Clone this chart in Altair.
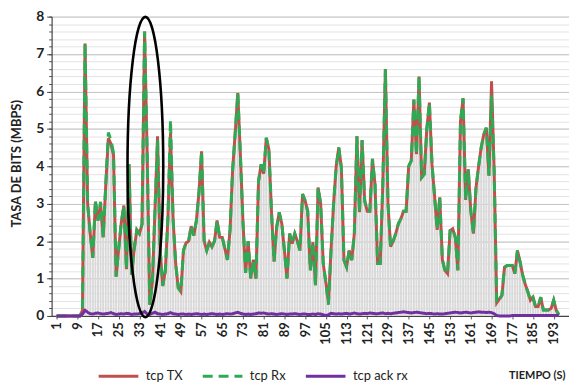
import altair as alt
import pandas as pd

seconds = list(range(1, 196))

tcp_tx = [
    0, 0, 0, 0, 0, 0, 0, 0, 0, 0,
    0.15, 7.28, 3.0, 2.2, 1.55, 3.05, 2.55, 3.0, 2.1, 3.5,
    4.75, 4.6, 4.3, 1.05, 1.8, 2.5, 2.95, 1.25, 4.05, 1.1,
    1.8, 2.3, 2.2, 2.45, 7.6, 4.3, 0.3, 0.9, 2.8, 4.8,
    1.8, 0.8, 1.2, 2.6, 4.9, 2.6, 1.4, 0.75, 0.65, 1.75,
    1.95, 2.0, 2.4, 2.15, 2.55, 3.3, 4.4, 2.0, 1.75, 1.97,
    1.85, 2.0, 2.55, 2.1, 2.1, 1.8, 1.5, 2.3, 3.9, 4.9,
    5.96, 4.3, 2.5, 1.15, 2.0, 1.0, 1.5, 1.0, 3.6, 4.05,
    3.8, 4.76, 4.45, 2.8, 1.45, 2.37, 2.77, 2.46, 1.75, 1.0,
    2.2, 1.93, 2.2, 2.0, 1.75, 3.26, 3.08, 2.8, 1.22, 1.97,
    0.82, 3.43, 3.0, 1.4, 0.9, 0.35, 1.75, 3.0, 4.0, 4.5,
    3.96, 1.49, 1.31, 1.75, 1.49, 2.2, 4.8, 2.77, 4.7, 3.08,
    2.8, 2.8, 4.2, 3.5, 1.4, 1.4, 3.5, 6.6, 3.0, 1.85,
    2.0, 2.2, 2.46, 2.6, 2.8, 2.8, 4.0, 4.15, 5.78, 4.32,
    6.4, 3.7, 3.79, 5.0, 5.7, 4.05, 3.2, 2.3, 3.17, 1.5,
    1.22, 1.13, 2.28, 2.33, 2.1, 1.22, 5.2, 5.82, 3.1, 3.92,
    2.8, 2.2, 3.43, 4.0, 4.5, 4.85, 5.03, 3.75, 6.27, 3.9,
    0.35, 0.45, 0.55, 1.3, 1.35, 1.35, 1.35, 1.13, 1.75, 1.45,
    1.1, 0.85, 0.65, 0.42, 0.5, 0.25, 0.25, 0.5, 0.16, 0.16,
    0.16, 0.2, 0.42, 0.15, 0.03,
]

tcp_rx = [
    0, 0, 0, 0, 0, 0, 0, 0, 0, 0,
    0.1, 7.28, 3.0, 2.2, 1.55, 3.1, 2.55, 3.05, 2.1, 3.5,
    4.9, 4.7, 4.35, 1.05, 1.8, 2.5, 2.95, 1.25, 4.05, 1.1,
    1.8, 2.3, 2.2, 2.45, 7.6, 4.3, 0.3, 0.9, 2.8, 4.7,
    1.8, 0.8, 1.2, 2.6, 5.25, 2.6, 1.4, 0.75, 0.65, 1.75,
    1.95, 2.0, 2.4, 2.15, 2.55, 3.3, 4.4, 2.0, 1.75, 1.97,
    1.85, 2.0, 2.55, 2.1, 2.1, 1.8, 1.5, 2.3, 3.9, 4.9,
    5.96, 4.3, 2.5, 1.15, 2.0, 1.0, 1.5, 1.0, 3.6, 4.05,
    3.8, 4.76, 4.45, 2.8, 1.45, 2.37, 2.77, 2.46, 1.75, 1.0,
    2.2, 1.93, 2.2, 2.0, 1.75, 3.26, 3.08, 2.8, 1.22, 1.97,
    0.82, 3.43, 3.0, 1.4, 0.9, 0.3, 1.75, 3.0, 4.0, 4.5,
    3.96, 1.49, 1.31, 1.75, 1.49, 2.2, 4.8, 2.77, 4.7, 3.08,
    2.8, 2.8, 4.2, 3.5, 1.4, 1.4, 3.5, 6.6, 3.0, 1.85,
    2.0, 2.2, 2.46, 2.6, 2.8, 2.8, 4.0, 4.15, 5.78, 4.32,
    6.4, 3.7, 3.79, 5.0, 5.7, 4.05, 3.2, 2.3, 3.17, 1.5,
    1.22, 1.13, 2.28, 2.33, 2.1, 1.22, 5.2, 5.82, 3.1, 3.92,
    2.8, 2.2, 3.43, 4.0, 4.5, 4.85, 5.03, 3.75, 5.9, 3.9,
    0.35, 0.45, 0.55, 1.3, 1.35, 1.35, 1.35, 1.13, 1.75, 1.45,
    1.1, 0.85, 0.65, 0.42, 0.5, 0.25, 0.25, 0.5, 0.16, 0.16,
    0.16, 0.2, 0.42, 0.15, 0.03,
]

tcp_ack = [
    0, 0, 0, 0, 0, 0, 0, 0, 0, 0,
    0.05, 0.15, 0.1, 0.06, 0.05, 0.07, 0.08, 0.06, 0.05, 0.06,
    0.07, 0.09, 0.06, 0.04, 0.05, 0.06, 0.05, 0.07, 0.06, 0.04,
    0.05, 0.05, 0.06, 0.08, 0.12, 0.05, 0.04, 0.07, 0.1, 0.06,
    0.05, 0.04, 0.05, 0.06, 0.09, 0.06, 0.05, 0.04, 0.05, 0.05,
    0.04, 0.05, 0.04, 0.05, 0.06, 0.05, 0.04, 0.05, 0.04, 0.05,
    0.06, 0.05, 0.04, 0.05, 0.04, 0.05, 0.06, 0.05, 0.06, 0.08,
    0.1, 0.07, 0.05, 0.04, 0.05, 0.04, 0.05, 0.06, 0.08, 0.07,
    0.08, 0.06, 0.05, 0.06, 0.05, 0.04, 0.05, 0.06, 0.05, 0.04,
    0.05, 0.05, 0.06, 0.05, 0.04, 0.05, 0.05, 0.04, 0.04, 0.05,
    0.04, 0.06, 0.05, 0.03, 0.01, 0.03, 0.07, 0.06, 0.05, 0.06,
    0.05, 0.06, 0.07, 0.05, 0.06, 0.08, 0.06, 0.05, 0.06, 0.07,
    0.06, 0.08, 0.07, 0.06, 0.06, 0.07, 0.08, 0.06, 0.07, 0.06,
    0.07, 0.08, 0.09, 0.1, 0.11, 0.1, 0.09, 0.08, 0.09, 0.1,
    0.09, 0.08, 0.07, 0.06, 0.07, 0.06, 0.05, 0.06, 0.05, 0.05,
    0.06, 0.07, 0.08, 0.09, 0.1, 0.09, 0.08, 0.09, 0.1, 0.09,
    0.08, 0.09, 0.1, 0.11, 0.1, 0.1, 0.09, 0.1, 0.09, 0.06,
    0.01, 0, 0, 0, 0, 0, 0.01, 0.01, 0.01, 0.01,
    0.01, 0.01, 0.01, 0.01, 0.01, 0.01, 0.01, 0.01, 0.01, 0.01,
    0.01, 0.01, 0.01, 0.01, 0.01,
]

series_names = ["tcp TX", "tcp Rx", "tcp ack rx"]
series_colors = ["#c0504d", "#2eaa55", "#7030a0"]
series_dash = [[1, 0], [10, 6], [1, 0]]

x_ticks = list(range(1, 194, 8))
y_major = [0, 1, 2, 3, 4, 5, 6, 7, 8]
y_minor = [0, 0.2, 0.4, 0.6, 0.8, 1, 1.2, 1.4, 1.6, 1.8, 2, 2.2, 2.4, 2.6, 2.8,
           3, 3.2, 3.4, 3.6, 3.8, 4, 4.2, 4.4, 4.6, 4.8, 5, 5.2, 5.4, 5.6, 5.8,
           6, 6.2, 6.4, 6.6, 6.8, 7, 7.2, 7.4, 7.6, 7.8, 8]

# highlighted interval (ellipse annotation)
ellipse_t = [35.3]
ellipse_v = [3.98]

FONT = "Lato"

rows = []
for name, vals in zip(series_names, [tcp_tx, tcp_rx, tcp_ack]):
    for t, v in zip(seconds, vals):
        rows.append({"t": t, "v": v, "serie": name})
df = pd.DataFrame(rows)
bars_df = pd.DataFrame({"t": seconds, "v": tcp_tx})
ell_df = pd.DataFrame({"t": ellipse_t, "v": ellipse_v})

xscale = alt.Scale(domain=[1, 197], nice=False, zero=False)
yscale = alt.Scale(domain=[0, 8], nice=False)

color = alt.Color("serie:N", scale=alt.Scale(domain=series_names, range=series_colors),
                  legend=alt.Legend(title=None, orient="none", legendX=46, legendY=341,
                                    direction="horizontal", columns=3, gridAlign="each",
                                    symbolType="stroke", symbolSize=1600, symbolStrokeWidth=3,
                                    labelFontSize=13, labelFont=FONT, labelColor="#222",
                                    columnPadding=13, labelOffset=6))
dash = alt.StrokeDash("serie:N", scale=alt.Scale(domain=series_names, range=series_dash),
                      legend=None)

x_axis = alt.Axis(values=x_ticks, labelAngle=-90, labelFont=FONT, labelFontSize=13,
                  labelFontWeight="bold", labelColor="#222", grid=False, tickSize=3,
                  tickColor="#555", domainColor="#444", domainWidth=1.2, labelPadding=3,
                  labelOverlap=False, labelFlush=False,
                  title="TIEMPO (S)", titleFont=FONT, titleFontSize=11, titleFontWeight="bold",
                  titleColor="#222", titleX=518, titleY=60, titleAlign="right",
                  titleBaseline="middle", titleAnchor="end")

y_major_axis = alt.Axis(values=y_major, orient="left", grid=True, gridColor="#c4c4c4",
                        gridWidth=1, labelFont=FONT, labelFontSize=14,
                        labelFontWeight="bold", labelColor="#222", tickSize=5,
                        tickColor="#444", domainColor="#444", domainWidth=1.2,
                        labelPadding=3, labelOverlap=False, labelFlush=False,
                        title="TASA DE BITS (MBPS)", titleFont=FONT, titleFontSize=13,
                        titleFontWeight="bold", titleColor="#222", titleAngle=270,
                        titleX=-35, titleY=148, titleAlign="center",
                        titleBaseline="middle")

bars = alt.Chart(bars_df).mark_bar(width=2.0, color="#d9d9d9").encode(
    x=alt.X("t:Q", scale=xscale, axis=x_axis),
    y=alt.Y("v:Q", scale=yscale,
            axis=alt.Axis(values=y_minor, orient="left", grid=True, gridColor="#e3e3e3",
                          gridWidth=1, labels=False, tickSize=3, tickColor="#555",
                          domain=False, title=None)),
)

def line_layer(name):
    return alt.Chart(df[df["serie"] == name]).mark_line(strokeWidth=3).encode(
        x=alt.X("t:Q", scale=xscale, axis=x_axis),
        y=alt.Y("v:Q", scale=yscale, axis=y_major_axis),
        color=color,
        strokeDash=dash,
    )

ellipse_path = ("M 0 -1 C 0.0657 -1 0.119 -0.5523 0.119 0 "
                "C 0.119 0.5523 0.0657 1 0 1 "
                "C -0.0657 1 -0.119 0.5523 -0.119 0 "
                "C -0.119 -0.5523 -0.0657 -1 0 -1 Z")
ellipse = alt.Chart(ell_df).mark_point(shape=ellipse_path, size=91809, filled=False,
                                       stroke="black", strokeWidth=2.6, opacity=1).encode(
    x=alt.X("t:Q", scale=xscale, axis=x_axis),
    y=alt.Y("v:Q", scale=yscale, axis=y_major_axis),
)

main = alt.layer(line_layer("tcp TX"), line_layer("tcp Rx"), line_layer("tcp ack rx"), ellipse)

chart = alt.layer(bars, main).resolve_axis(y="independent").properties(
    width=522, height=302,
    autosize=alt.AutoSizeParams(type="none"),
    padding={"left": 44, "top": 7, "right": 0, "bottom": 70},
).configure_view(stroke=None, fill="white").configure_axis(
    labelOverlap=False, labelFlush=False
)

chart.save("out.html", embed_options={"renderer": "svg", "actions": False})
